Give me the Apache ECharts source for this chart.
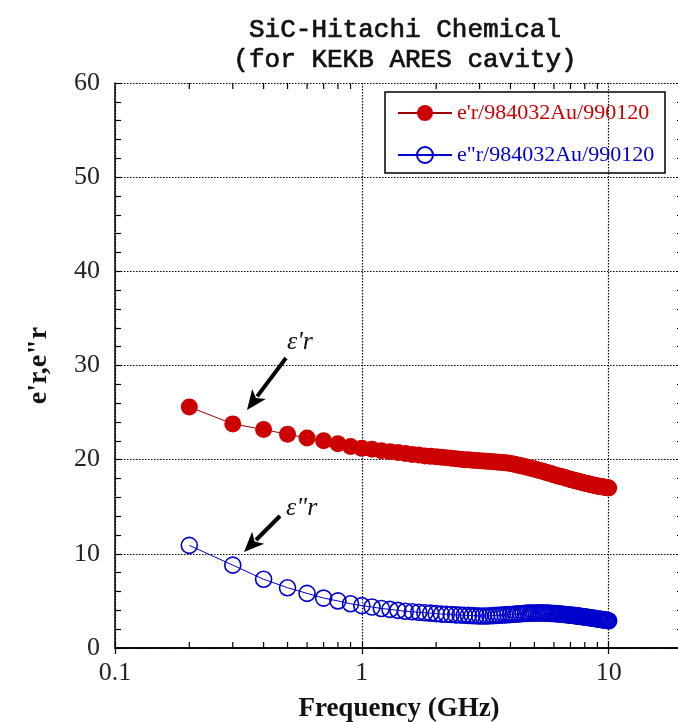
<!DOCTYPE html>
<html><head><meta charset="utf-8">
<script src="https://cdn.jsdelivr.net/npm/echarts@6/dist/echarts.min.js"></script>
<style>html,body{margin:0;padding:0;background:#fff}#c{width:678px;height:722px}</style>
</head><body><div id="c"></div>
<script>
const freqGHz = [0.2,0.3,0.4,0.5,0.6,0.7,0.8,0.9,1.0,
1.1,1.2,1.3,1.4,1.5,1.6,1.7,1.8,1.9,2.0,
2.1,2.2,2.3,2.4,2.5,2.6,2.7,2.8,2.9,3.0,
3.1,3.2,3.3,3.4,3.5,3.6,3.7,3.8,3.9,4.0,
4.1,4.2,4.3,4.4,4.5,4.6,4.7,4.8,4.9,5.0,
5.1,5.2,5.3,5.4,5.5,5.6,5.7,5.8,5.9,6.0,
6.1,6.2,6.3,6.4,6.5,6.6,6.7,6.8,6.9,7.0,
7.1,7.2,7.3,7.4,7.5,7.6,7.7,7.8,7.9,8.0,
8.1,8.2,8.3,8.4,8.5,8.6,8.7,8.8,8.9,9.0,
9.1,9.2,9.3,9.4,9.5,9.6,9.7,9.8,9.9,10.0];
const epsReal = [25.6,23.8,23.2,22.7,22.3,22.0,21.7,21.4,21.2,
21.1,20.95,20.85,20.75,20.65,20.55,20.5,20.4,20.35,20.3,
20.25,20.2,20.15,20.1,20.05,20.0,19.98,19.95,19.9,19.88,
19.85,19.82,19.8,19.78,19.75,19.72,19.7,19.68,19.65,19.6,
19.55,19.48,19.42,19.36,19.3,19.24,19.18,19.12,19.06,19.0,
18.94,18.88,18.82,18.76,18.7,18.64,18.58,18.52,18.46,18.4,
18.35,18.3,18.25,18.2,18.15,18.1,18.05,18.0,17.95,17.9,
17.86,17.82,17.78,17.74,17.7,17.66,17.62,17.58,17.54,17.5,
17.47,17.44,17.41,17.38,17.35,17.32,17.29,17.26,17.23,17.2,
17.18,17.16,17.14,17.12,17.1,17.08,17.06,17.04,17.02,17.0];
const epsImag = [10.9,8.8,7.3,6.4,5.8,5.3,5.0,4.7,4.5,
4.35,4.2,4.1,4.0,3.9,3.85,3.8,3.75,3.7,3.65,
3.6,3.58,3.55,3.52,3.5,3.48,3.46,3.44,3.42,3.4,
3.4,3.4,3.42,3.44,3.46,3.48,3.5,3.52,3.54,3.56,
3.58,3.6,3.62,3.64,3.66,3.68,3.7,3.7,3.72,3.72,
3.72,3.73,3.73,3.72,3.72,3.7,3.7,3.68,3.67,3.66,
3.65,3.63,3.62,3.6,3.58,3.56,3.55,3.53,3.51,3.5,
3.48,3.46,3.44,3.42,3.4,3.38,3.36,3.34,3.32,3.3,
3.28,3.26,3.24,3.22,3.2,3.18,3.16,3.14,3.12,3.1,
3.08,3.06,3.04,3.02,3.0,2.98,2.96,2.94,2.92,2.9];
const xMinorTicks = [0.2,0.3,0.4,0.5,0.6,0.7,0.8,0.9,2,3,4,5,6,7,8,9];
const xMajorLabels = {'0.1':'0.1','1':'1','10':'10'};
const nameReal = "e'r/984032Au/990120";
const nameImag = 'e"r/984032Au/990120';
const titleLines = ['SiC-Hitachi Chemical','(for KEKB ARES cavity)'];
const xName = 'Frequency (GHz)';
const yName = "e'r,e\"r";

const RED = '#cc0000', BLUE = '#0000cc';
const serif = 'Liberation Serif, Times New Roman, serif';

function arrow(x1,y1,x2,y2){
  const dx=x2-x1, dy=y2-y1, L=Math.hypot(dx,dy), ux=dx/L, uy=dy/L;
  const hl=20, hw=8.5;
  const bx=x2-ux*hl, by=y2-uy*hl;
  return [
    {type:'line', shape:{x1:x1,y1:y1,x2:bx+ux*3,y2:by+uy*3}, style:{stroke:'#000',lineWidth:4}},
    {type:'polygon', shape:{points:[[x2,y2],[bx-uy*hw,by+ux*hw],[bx+ux*5,by+uy*5],[bx+uy*hw,by-ux*hw]]}, style:{fill:'#000'}}
  ];
}

const chart = echarts.init(document.getElementById('c'), null, {renderer:'canvas'});
const axisCommon = {
  axisLine:{show:true,lineStyle:{color:'#000',width:1.5}},
  axisTick:{show:true,inside:true,length:6,lineStyle:{color:'#000',width:1.2}},
};
const dotted = {color:'#000', type:[1.5,1.5], width:1.2};
chart.setOption({
  animation:false,
  backgroundColor:'#fff',
  title:{
    text:titleLines.join('\n'), left:400, top:10, textAlign:'center',
    textStyle:{fontFamily:'Liberation Mono, DejaVu Sans Mono, monospace', fontSize:26, fontWeight:'normal', color:'#111', lineHeight:30,
      textBorderColor:'#111', textBorderWidth:0.7}
  },
  grid:{left:115, right:-5, top:83, bottom:74, containLabel:false, outerBoundsMode:'none'},
  legend:{
    orient:'vertical', left:392, top:97, itemWidth:54, itemHeight:20, itemGap:20, padding:5,
    data:[{name:nameReal,textStyle:{color:RED}},{name:nameImag,textStyle:{color:BLUE}}],
    textStyle:{fontFamily:serif, fontSize:22, lineHeight:20}
  },
  xAxis:[{
    type:'log', logBase:10, min:0.1, max:20, position:'bottom',
    ...axisCommon,
    axisLabel:{show:true, margin:12, fontFamily:serif, fontSize:26, color:'#222',
      formatter:function(v){ const k=String(+v.toPrecision(6)); return xMajorLabels[k]||''; }},
    splitLine:{show:true, lineStyle:dotted},
    name:xName, nameLocation:'middle', nameGap:48,
    nameTextStyle:{fontFamily:serif, fontSize:27, fontWeight:'bold', color:'#111'}
  },{
    type:'log', logBase:10, min:0.1, max:20, position:'top',
    ...axisCommon, axisLabel:{show:false}, splitLine:{show:false}
  }],
  yAxis:[{
    type:'value', min:0, max:60, interval:10, position:'left',
    ...axisCommon,
    minorTick:{show:true, splitNumber:5, length:6, lineStyle:{color:'#000',width:1.2}},
    axisLabel:{margin:15, fontFamily:serif, fontSize:26, color:'#222'},
    splitLine:{show:true, lineStyle:dotted},
    name:yName, nameLocation:'middle', nameGap:62, nameRotate:90,
    nameTextStyle:{fontFamily:serif, fontSize:28, fontWeight:'bold', color:'#111'}
  },{
    type:'value', min:0, max:60, interval:10, position:'right',
    ...axisCommon,
    minorTick:{show:true, splitNumber:5, length:6, lineStyle:{color:'#000',width:1.2}},
    axisLabel:{show:false}, splitLine:{show:false}
  }],
  series:[{
    type:'custom', silent:true, xAxisIndex:0, yAxisIndex:0, clip:false,
    data:xMinorTicks.map(f=>[f]),
    renderItem:function(params, api){
      const f=api.value(0);
      const b=api.coord([f,0]), t=api.coord([f,60]);
      return {type:'group', children:[
        {type:'line', shape:{x1:b[0],y1:b[1],x2:b[0],y2:b[1]-6}, style:{stroke:'#000',lineWidth:1.2}},
        {type:'line', shape:{x1:t[0],y1:t[1],x2:t[0],y2:t[1]+6}, style:{stroke:'#000',lineWidth:1.2}}
      ]};
    },
    encode:{x:0}
  },{
    name:nameReal, type:'line', data:freqGHz.map((f,i)=>[f,epsReal[i]]),
    symbol:'circle', symbolSize:17, showAllSymbol:true,
    itemStyle:{color:RED}, lineStyle:{color:'#a00000', width:1}, z:3
  },{
    name:nameImag, type:'line', data:freqGHz.map((f,i)=>[f,epsImag[i]]),
    symbol:'circle', symbolSize:16, showAllSymbol:true,
    itemStyle:{color:'rgba(255,255,255,0)', borderColor:BLUE, borderWidth:1.6},
    lineStyle:{color:BLUE, width:1}, z:3
  }],
  graphic:[
    {type:'rect', shape:{x:385,y:92,width:280,height:81}, style:{fill:'rgba(0,0,0,0)', stroke:'#000', lineWidth:1.5}, z:10},
    {type:'text', x:287, y:342, style:{text:"ε'r", font:'italic 26px Liberation Serif', fill:'#111', verticalAlign:'middle'}, z:10},
    {type:'text', x:286, y:508, style:{text:'ε"r', font:'italic 26px Liberation Serif', fill:'#111', verticalAlign:'middle'}, z:10},
    ...arrow(286,358,247,410).map(e=>Object.assign(e,{z:10})),
    ...arrow(280,516,244,552).map(e=>Object.assign(e,{z:10}))
  ]
});
</script></body></html>
